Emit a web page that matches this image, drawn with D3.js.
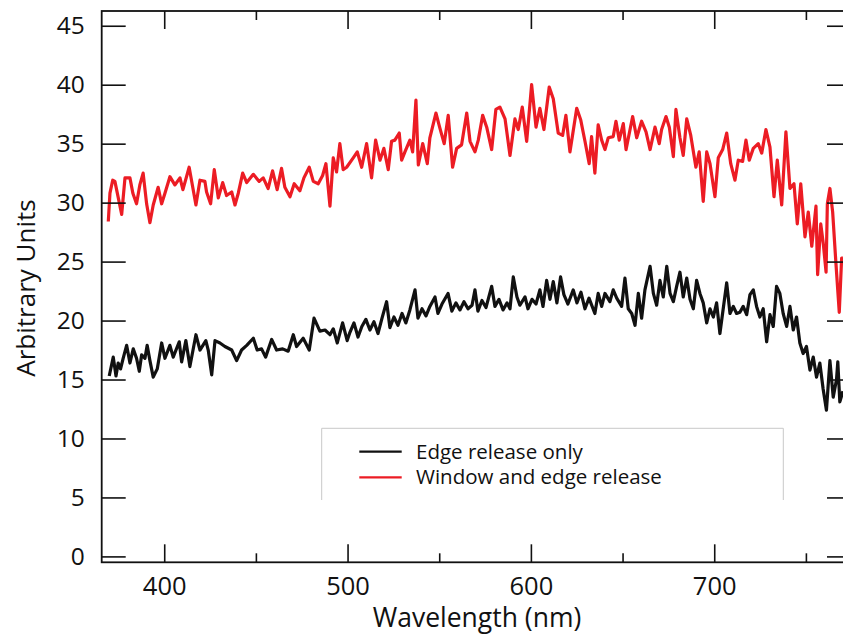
<!DOCTYPE html>
<html>
<head>
<meta charset="utf-8">
<script src="https://cdn.jsdelivr.net/npm/d3@7"></script>
<style>
  body { margin: 0; background: #fff; }
  text { font-family: "Open Sans", sans-serif; fill: #111; }
</style>
</head>
<body>
<div id="chart"></div>
<script>
// DATA
const edgeWl = [370, 372.2, 373.7, 374.9, 376.2, 377.6, 379.5, 381.3, 383.1, 384.9, 386.4, 387.7, 389.5, 390.7, 392.2, 394, 396.2, 398.6,
  400.4, 403.1, 404.9, 408.2, 409.5, 411.8, 414, 417.3, 419.5, 422.7, 424, 425.9, 427.7, 430.4, 433.1, 436.8, 439.5, 442.2, 445, 448.6,
  450.7, 453.1, 455.3, 458.6, 461.3, 464.6, 467.6, 470.4, 472.2, 475.8, 479.1, 481.7, 484.9, 487.7, 490.4, 492.2, 494.4, 497.3, 499.8,
  501.3, 503.5, 505.7, 507.8, 510, 512.2, 514.4, 516.6, 518.8, 521.3, 523.1, 525.3, 527.5, 529.7, 531.8, 534, 536.8, 538.4, 540.6, 542.8,
  544.9, 547.7, 549.3, 551.5, 554.8, 556.9, 559.1, 561.3, 563.5, 565.7, 567.9, 569.5, 571.1, 573.3, 575.5, 578.6, 580.4, 582.6, 584.8,
  587, 588.6, 590.4, 592.4, 594, 596.8, 598.4, 600.6, 602.8, 604.9, 606.6, 608.6, 610.4, 612.2, 614.2, 616.2, 618, 620.2, 623.1, 625.1,
  627.3, 629.5, 631.7, 634.9, 636.7, 638.6, 640.4, 643.1, 644.9, 646.8, 649.5, 651.3, 653.1, 655, 656.8, 658.6, 660.4, 662.2, 665, 666.8,
  668.6, 670.4, 672.2, 674.1, 675.9, 677.7, 679.5, 681.3, 683.1, 685, 686.8, 688.6, 690.4, 692.2, 694, 695.9, 697.7, 699.5, 701.3, 703.1,
  704.9, 706.8, 708.6, 710.4, 712.2, 714, 715.8, 717.7, 719.5, 721.3, 723.1, 724.9, 726.7, 728.6, 730.4, 732.2, 734, 735.8, 737.6, 739.5,
  741.3, 743.1, 744.9, 746.7, 748.5, 750.3, 752.2, 754, 755.8, 757.6, 759.4, 761.2, 763.1, 764.9, 766.7, 767.4, 768.5, 770.2];
const edgeOnly = [15.3, 16.9, 15.3, 16.4, 15.9, 16.8, 17.9, 16.4, 17.6, 16.8, 15.7, 17.1, 16.8, 17.9, 16.6, 15.2, 15.9, 18.1,
  16.8, 17.9, 16.9, 18.2, 16.5, 18.3, 16.1, 18.8, 17.5, 18.3, 17.5, 15.4, 18.3, 18.1, 17.8, 17.5, 16.6, 17.5, 17.9, 18.5,
  17.5, 17.6, 16.9, 18.4, 17.5, 17.6, 17.4, 18.8, 17.8, 18.5, 17.5, 20.2, 19.1, 19.2, 18.8, 19.3, 18.1, 19.8, 18.3,
  19.0, 19.8, 18.6, 19.5, 20.1, 19.2, 19.9, 18.9, 20.2, 21.6, 19.4, 20.3, 19.6, 20.6, 19.8, 20.9, 22.6, 20.2, 21.0, 20.4,
  21.2, 22.0, 20.6, 21.4, 22.3, 20.8, 21.5, 20.9, 21.6, 21.0, 21.3, 22.6, 20.8, 21.7, 21.1, 22.9, 21.2, 21.8, 20.9,
  21.5, 21.0, 23.7, 22.0, 21.3, 22.0, 21.0, 21.8, 21.4, 22.6, 21.2, 23.4, 21.8, 23.3, 21.5, 23.7, 22.2, 21.4, 22.6, 21.5,
  22.4, 21.0, 21.9, 20.6, 22.3, 21.2, 22.3, 21.6, 22.6, 21.9, 21.2, 23.6, 21.0, 20.6, 19.6, 22.3, 20.2, 22.6, 24.6, 22.3,
  21.3, 23.4, 22.0, 24.6, 22.3, 21.6, 22.9, 24.1, 22.0, 23.6, 21.8, 21.0, 23.4, 22.3, 21.5, 19.8, 21.0, 20.3, 21.5, 18.9,
  21.0, 23.2, 20.6, 21.2, 20.6, 20.7, 21.2, 20.5, 22.2, 22.6, 21.2, 20.3, 21.0, 18.2, 20.5, 19.5, 22.9, 22.3, 20.6, 19.5,
  21.2, 19.2, 20.3, 18.1, 17.2, 17.8, 15.8, 16.9, 15.2, 16.4, 14.2, 12.4, 16.6, 13.5, 15.0, 16.5, 13.1, 14.0];

const windowWl = [369.5, 370.4, 371.9, 373.1, 376.8, 378.6, 381.3, 382.9, 384.9, 386.7, 388.5, 390.4, 392.2, 394, 396.7, 398.6,
  400.4, 403.1, 405.8, 408.6, 410.2, 413.6, 417.3, 419.5, 422.2, 423.1, 425.3, 427.3, 429.5, 431.9, 434, 436.8, 438.6, 440.4, 442.8,
  445, 448.6, 451.8, 454, 456.7, 459.1, 461.6, 464, 465.8, 468.6, 470.9, 474, 476.2, 479.1, 481.3, 484, 486.4, 488.2, 490.4, 492.2,
  494, 495.8, 497.6, 499.5, 503.1, 505.3, 507.7, 510.4, 513.1, 515.3, 517.7, 519.8, 522.2, 524, 525.8, 528.2, 529.5, 531.3, 534,
  535.5, 537.3, 538.6, 541, 543.5, 544.9, 548.2, 550.4, 552.7, 554.9, 557.3, 559.5, 562.2, 565, 566.8, 569.5, 571.3, 573.7, 575.9,
  578.6, 580.9, 583.1, 585.9, 588.6, 591.3, 593.1, 595.3, 597.7, 600.4, 602.8, 604.9, 607.1, 610, 612.2, 614.9, 617.3, 619.1, 621.3,
  625, 627.2, 629.5, 631.8, 633.1, 634.9, 636.7, 638.6, 640.4, 642.2, 644.9, 646.4, 648.2, 650.4, 651.9, 655.5, 657.7, 660.4, 662.8,
  665, 667.7, 670, 671.3, 673.7, 675.5, 677.7, 679.1, 681.3, 683.1, 685, 687.2, 690, 691.8, 694, 695.9, 697.7, 700.4, 702.2, 704.6,
  706.8, 709, 711.3, 713.1, 715.5, 717.3, 719.1, 721.3, 724, 725.9, 728.2, 730.4, 732.6, 734.4, 736.8, 739.1, 741.3, 743.5, 745.3,
  747.2, 749.5, 751.3, 753.2, 755.5, 756.4, 758.1, 759.5, 761, 761.7, 763.1, 764.6, 766.4, 768.2, 769.5, 770.2];
const windowEdge = [28.4, 30.8, 31.9, 31.8, 29.0, 32.1, 32.1, 30.8, 29.9, 31.5, 32.5, 29.9, 28.3, 29.8, 31.3, 29.9,
  30.8, 32.2, 31.5, 32.1, 31.1, 33.0, 29.8, 31.9, 31.8, 30.9, 29.9, 32.8, 30.4, 31.7, 30.6, 30.9, 29.8, 30.8, 32.5,
  31.7, 32.4, 31.8, 32.1, 31.2, 32.7, 31.1, 32.9, 31.3, 30.5, 31.6, 31.0, 32.1, 33.0, 31.8, 31.6, 32.3, 33.3, 29.7, 33.8,
  32.6, 35.0, 32.8, 33.0, 33.8, 34.3, 33.0, 35.0, 32.1, 35.3, 33.6, 34.6, 32.8, 35.2, 35.3, 35.9, 33.6, 34.3, 35.3,
  34.3, 38.7, 33.2, 35.0, 33.3, 35.5, 37.6, 36.3, 35.0, 37.4, 33.0, 34.6, 34.9, 37.6, 35.2, 34.3, 35.3, 37.4, 36.4,
  34.5, 37.9, 38.1, 37.1, 34.0, 37.1, 36.2, 38.1, 35.2, 40.0, 36.4, 38.0, 36.2, 39.8, 38.8, 35.9, 35.7, 37.4, 34.3,
  38.0, 37.0, 35.2, 33.3, 35.6, 32.5, 36.6, 35.3, 34.5, 35.5, 35.6, 36.9, 35.3, 36.7, 34.5, 37.3, 35.5, 36.9, 36.0,
  34.5, 36.4, 35.0, 36.2, 37.3, 36.4, 33.9, 37.9, 35.5, 34.0, 37.1, 35.7, 33.0, 34.3, 30.1, 34.3, 33.3, 30.5, 33.8, 34.5,
  35.9, 33.3, 31.9, 33.6, 33.5, 35.3, 33.6, 34.6, 35.0, 34.2, 36.2, 34.7, 30.5, 33.6, 29.8, 36.0, 31.2, 31.6, 28.2,
  31.6, 27.1, 29.2, 26.3, 29.7, 23.9, 28.2, 26.5, 24.1, 29.9, 31.2, 29.2, 24.8, 20.7, 25.3, 25.3];

const yTicks = [0, 5, 10, 15, 20, 25, 30, 35, 40, 45];
const xMajor = [400, 500, 600, 700];
const xMinor = [450, 550, 650, 750];
const legendLabels = ["Edge release only", "Window and edge release"];
const seriesColors = ["#111111", "#ec1c24"];

// LAYOUT
const width = 843, height = 634;
const mLeft = 101.7, mRight = 851, mTop = 11, mBottom = 562.3;

const xScale = d3.scaleLinear().domain([365.9, 774.6]).range([mLeft, mRight]);
const yScale = d3.scaleLinear().domain([-0.5, 46.25]).range([mBottom, mTop]);

const svg = d3.select("#chart").append("svg")
  .attr("width", width).attr("height", height);

svg.append("clipPath").attr("id", "plot")
  .append("rect").attr("x", mLeft).attr("y", mTop)
  .attr("width", mRight - mLeft).attr("height", mBottom - mTop);

// LINES
const line = d3.line().x(d => xScale(d[0])).y(d => yScale(d[1]));
const series = [
  d3.zip(edgeWl, edgeOnly),
  d3.zip(windowWl, windowEdge)
];
svg.append("g").attr("clip-path", "url(#plot)")
  .selectAll("path").data(series).join("path")
  .attr("d", line)
  .attr("fill", "none")
  .attr("stroke", (d, i) => seriesColors[i])
  .attr("stroke-width", 3.2)
  .attr("stroke-linejoin", "round");

// AXES (ticks point inward, mirrored on all sides)
const axisStyle = g => {
  g.select(".domain").remove();
  g.selectAll("line").attr("stroke", "#111").attr("stroke-width", 1.6);
};

const yLeft = svg.append("g").attr("transform", `translate(${mLeft},0)`)
  .call(d3.axisLeft(yScale).tickValues(yTicks).tickSize(-24).tickPadding(17))
  .call(axisStyle);
yLeft.selectAll("text").attr("font-size", 24.5).attr("fill", "#111")
  .attr("font-family", "Open Sans");

svg.append("g").attr("transform", `translate(${mRight},0)`)
  .call(d3.axisRight(yScale).tickValues(yTicks).tickSize(-24).tickFormat(""))
  .call(axisStyle);

const xBottom = svg.append("g").attr("transform", `translate(0,${mBottom})`)
  .call(d3.axisBottom(xScale).tickValues(xMajor).tickSize(-18).tickPadding(15))
  .call(axisStyle);
xBottom.selectAll("text").attr("font-size", 25.5).attr("fill", "#111")
  .attr("font-family", "Open Sans");
svg.append("g").attr("transform", `translate(0,${mBottom})`)
  .call(d3.axisBottom(xScale).tickValues(xMinor).tickSize(-9).tickFormat(""))
  .call(axisStyle);

svg.append("g").attr("transform", `translate(0,${mTop})`)
  .call(d3.axisTop(xScale).tickValues(xMajor).tickSize(-18).tickFormat(""))
  .call(axisStyle);
svg.append("g").attr("transform", `translate(0,${mTop})`)
  .call(d3.axisTop(xScale).tickValues(xMinor).tickSize(-9).tickFormat(""))
  .call(axisStyle);

// frame
svg.append("rect")
  .attr("x", mLeft).attr("y", mTop)
  .attr("width", mRight - mLeft).attr("height", mBottom - mTop)
  .attr("fill", "none").attr("stroke", "#111").attr("stroke-width", 1.8);

// AXIS TITLES
svg.append("text")
  .attr("x", 477).attr("y", 627)
  .attr("text-anchor", "middle").attr("font-size", 26.5)
  .text("Wavelength (nm)");

svg.append("text")
  .attr("transform", "translate(35,288) rotate(-90)")
  .attr("text-anchor", "middle").attr("font-size", 26)
  .text("Arbitrary Units");

// LEGEND
const legend = svg.append("g");
legend.append("rect")
  .attr("x", 321.7).attr("y", 428.3).attr("width", 461.6).attr("height", 72)
  .attr("fill", "#fff").attr("stroke", "none");
legend.append("path")
  .attr("d", "M321.7,500V428.3H783.3V500")
  .attr("fill", "none").attr("stroke", "#c8c8c8").attr("stroke-width", 1);

const items = legend.selectAll(".item").data(legendLabels).join("g")
  .attr("class", "item")
  .attr("transform", (d, i) => `translate(0,${451.7 + i * 25.6})`);
items.append("line")
  .attr("x1", 359.3).attr("x2", 401.7)
  .attr("stroke", (d, i) => seriesColors[i]).attr("stroke-width", 2.2);
items.append("text")
  .attr("x", 416).attr("y", 7)
  .attr("font-size", 20.5)
  .text(d => d);
</script>
</body>
</html>
